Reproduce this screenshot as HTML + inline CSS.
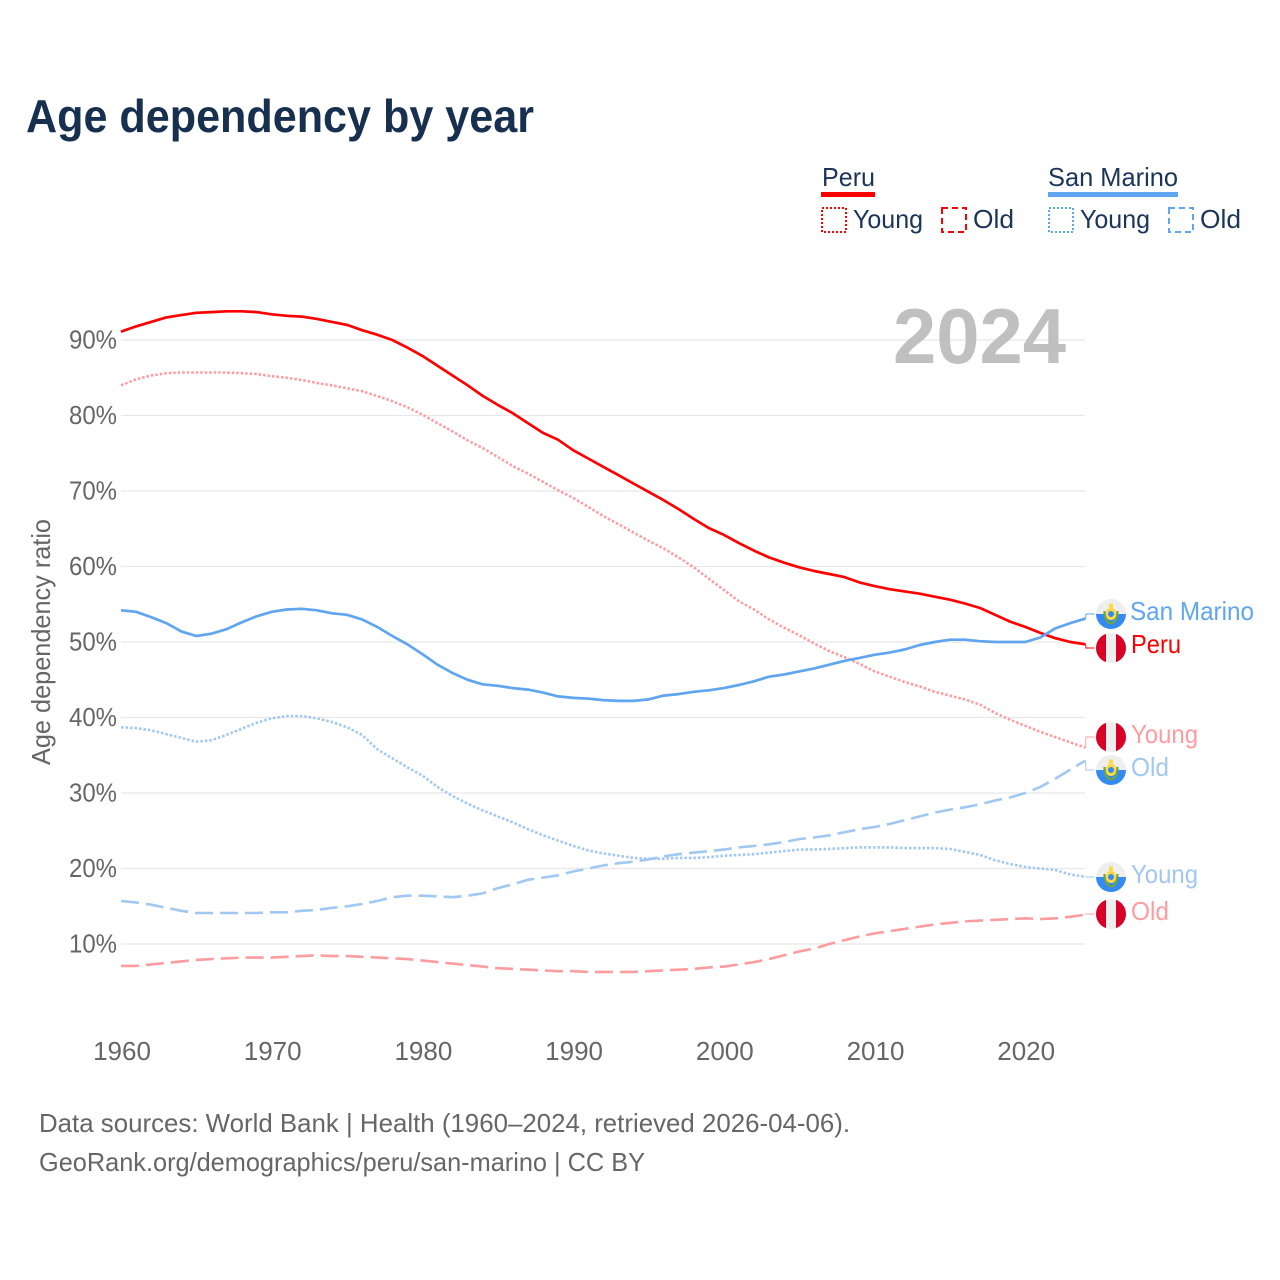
<!DOCTYPE html>
<html lang="en">
<head>
<meta charset="utf-8">
<title>Age dependency by year</title>
<style>
html,body{margin:0;padding:0;background:#fff;width:1280px;height:1280px;overflow:hidden}
svg{display:block}
text{font-family:"Liberation Sans",sans-serif}
</style>
</head>
<body>
<svg id="chart" xmlns="http://www.w3.org/2000/svg" width="1280" height="1280" viewBox="0 0 1280 1280">
  <defs>
    <g id="flag-pe">
      <clipPath id="clip-pe"><circle cx="0" cy="0" r="15"/></clipPath>
      <g clip-path="url(#clip-pe)">
        <rect x="-15" y="-15" width="30" height="30" fill="#eeeeee"/>
        <rect x="-15" y="-15" width="10" height="30" fill="#d80027"/>
        <rect x="5" y="-15" width="10" height="30" fill="#d80027"/>
      </g>
    </g>
    <g id="flag-sm">
      <clipPath id="clip-sm"><circle cx="0" cy="0" r="15"/></clipPath>
      <g clip-path="url(#clip-sm)">
        <rect x="-15" y="-15" width="30" height="15" fill="#eeeeee"/>
        <rect x="-15" y="0" width="30" height="15" fill="#338af3"/>
        <path d="M-6.5,-3 Q-6.5,8 0,9.5 Q6.5,8 6.5,-3" fill="none" stroke="#6da544" stroke-width="2.2"/>
        <rect x="-5" y="-6" width="10" height="12" rx="4.5" fill="#ffda44"/>
        <rect x="-3" y="-3" width="6" height="6" rx="3" fill="#338af3"/>
        <rect x="-2" y="-10.5" width="4" height="5" rx="1" fill="#ffda44"/>
      </g>
    </g>
  </defs>

  <text x="26" y="132" font-size="46" font-weight="700" fill="#17304f" textLength="508" lengthAdjust="spacingAndGlyphs">Age dependency by year</text>

  <g>
    <text x="822" y="186" font-size="26" fill="#1a3558" textLength="53" lengthAdjust="spacingAndGlyphs">Peru</text>
    <rect x="821" y="192" width="54" height="5" fill="#ff0000"/>
    <rect x="822" y="208" width="24" height="24" fill="none" stroke="#ff0000" stroke-width="2" stroke-dasharray="2,2"/>
    <text x="853" y="228" font-size="26" fill="#1a3558" textLength="70" lengthAdjust="spacingAndGlyphs">Young</text>
    <rect x="942" y="208" width="24" height="24" fill="none" stroke="#ff0000" stroke-width="2" stroke-dasharray="6,4"/>
    <text x="973" y="228" font-size="26" fill="#1a3558" textLength="41" lengthAdjust="spacingAndGlyphs">Old</text>

    <text x="1048" y="186" font-size="26" fill="#1a3558" textLength="130" lengthAdjust="spacingAndGlyphs">San Marino</text>
    <rect x="1048" y="192" width="130" height="5" fill="#60a5ef"/>
    <rect x="1049" y="208" width="24" height="24" fill="none" stroke="#60a5ef" stroke-width="2" stroke-dasharray="2,2"/>
    <text x="1080" y="228" font-size="26" fill="#1a3558" textLength="70" lengthAdjust="spacingAndGlyphs">Young</text>
    <rect x="1169" y="208" width="24" height="24" fill="none" stroke="#60a5ef" stroke-width="2" stroke-dasharray="6,4"/>
    <text x="1200" y="228" font-size="26" fill="#1a3558" textLength="41" lengthAdjust="spacingAndGlyphs">Old</text>
  </g>

  <g id="grid"></g>
  <g id="yticks"></g>
  <g id="xticks"></g>

  <text x="893" y="363" font-size="78" font-weight="700" fill="#c0c0c0" textLength="173" lengthAdjust="spacingAndGlyphs">2024</text>

  <text transform="translate(50,765) rotate(-90)" font-size="26" fill="#666666" textLength="246" lengthAdjust="spacingAndGlyphs">Age dependency ratio</text>

  <g id="series"></g>
  <g id="connectors"></g>

  <g>
    <use href="#flag-sm" x="1111" y="614"/>
    <text x="1130" y="620" font-size="26" fill="#60a5ef" textLength="124" lengthAdjust="spacingAndGlyphs">San Marino</text>
    <use href="#flag-pe" x="1111" y="648"/>
    <text x="1131" y="653" font-size="26" fill="#ff0000" textLength="50" lengthAdjust="spacingAndGlyphs">Peru</text>
    <use href="#flag-pe" x="1111" y="737"/>
    <text x="1131" y="743" font-size="26" fill="#ff9c9f" textLength="67" lengthAdjust="spacingAndGlyphs">Young</text>
    <use href="#flag-sm" x="1111" y="770"/>
    <text x="1131" y="776" font-size="26" fill="#a0c8f2" textLength="38" lengthAdjust="spacingAndGlyphs">Old</text>
    <use href="#flag-sm" x="1111" y="877"/>
    <text x="1131" y="883" font-size="26" fill="#a0c8f2" textLength="67" lengthAdjust="spacingAndGlyphs">Young</text>
    <use href="#flag-pe" x="1111" y="914"/>
    <text x="1131" y="920" font-size="26" fill="#ff9c9f" textLength="38" lengthAdjust="spacingAndGlyphs">Old</text>
  </g>

  <text x="39" y="1132" font-size="26" fill="#666666" textLength="811" lengthAdjust="spacingAndGlyphs">Data sources: World Bank | Health (1960–2024, retrieved 2026-04-06).</text>
  <text x="39" y="1171" font-size="26" fill="#666666" textLength="606" lengthAdjust="spacingAndGlyphs">GeoRank.org/demographics/peru/san-marino | CC BY</text>
</svg>

<script>
const startYear = 1960;
const yTicks = [10, 20, 30, 40, 50, 60, 70, 80, 90];
const xTicks = [1960, 1970, 1980, 1990, 2000, 2010, 2020];

const peruTotal = [
  91.1,91.8,92.4,93,93.3,93.6,93.7,93.8,93.8,93.7,
  93.4,93.2,93.1,92.8,92.4,92,91.3,90.7,90,89,
  87.9,86.6,85.3,84,82.6,81.4,80.3,79,77.7,76.8,
  75.4,74.3,73.2,72.1,71,69.9,68.8,67.6,66.3,65.1,
  64.2,63.1,62.1,61.2,60.5,59.9,59.4,59,58.6,57.9,
  57.4,57,56.7,56.4,56,55.6,55.1,54.5,53.6,52.7,
  52,51.2,50.5,50,49.7
];
const peruYoung = [
  84,84.8,85.3,85.6,85.7,85.7,85.7,85.7,85.6,85.5,
  85.2,85,84.7,84.3,84,83.6,83.2,82.6,81.9,81.1,
  80.1,79,77.9,76.7,75.7,74.5,73.3,72.3,71.2,70.1,
  69.1,67.9,66.7,65.6,64.5,63.4,62.4,61.2,59.9,58.4,
  56.9,55.4,54.3,53,51.9,50.9,49.8,48.8,48,47.1,
  46.1,45.4,44.7,44.1,43.4,42.9,42.4,41.7,40.6,39.7,
  38.9,38.1,37.4,36.7,36
];
const peruOld = [
  7.1,7.1,7.3,7.5,7.7,7.9,8,8.1,8.2,8.2,
  8.2,8.3,8.4,8.5,8.4,8.4,8.3,8.2,8.1,8,
  7.8,7.6,7.4,7.2,7,6.8,6.7,6.6,6.5,6.4,
  6.4,6.3,6.3,6.3,6.3,6.4,6.5,6.6,6.7,6.9,
  7,7.3,7.6,8,8.5,9,9.4,10,10.5,11,
  11.4,11.7,12,12.3,12.6,12.8,13,13.1,13.2,13.3,
  13.4,13.3,13.4,13.6,13.9
];
const sanMarinoTotal = [
  54.2,54,53.3,52.5,51.4,50.8,51.1,51.7,52.6,53.4,
  54,54.3,54.4,54.2,53.8,53.6,53,52,50.8,49.7,
  48.4,47,45.9,45,44.4,44.2,43.9,43.7,43.3,42.8,
  42.6,42.5,42.3,42.2,42.2,42.4,42.9,43.1,43.4,43.6,
  43.9,44.3,44.8,45.4,45.7,46.1,46.5,47,47.5,47.9,
  48.3,48.6,49,49.6,50,50.3,50.3,50.1,50,50,
  50,50.6,51.8,52.5,53.1
];
const sanMarinoYoung = [
  38.7,38.6,38.3,37.8,37.3,36.8,37,37.7,38.5,39.3,
  39.9,40.2,40.2,39.9,39.4,38.7,37.7,35.8,34.6,33.4,
  32.3,30.8,29.6,28.6,27.7,26.9,26.1,25.2,24.4,23.7,
  23,22.4,22,21.7,21.4,21.3,21.3,21.4,21.4,21.5,
  21.7,21.8,21.9,22.1,22.3,22.5,22.5,22.6,22.7,22.8,
  22.8,22.8,22.7,22.7,22.7,22.6,22.2,21.8,21.1,20.6,
  20.2,20,19.8,19.2,18.9
];
const sanMarinoOld = [
  15.7,15.5,15.2,14.8,14.4,14.1,14.1,14.1,14.1,14.1,
  14.2,14.2,14.4,14.5,14.8,15,15.3,15.7,16.2,16.4,
  16.4,16.3,16.2,16.4,16.7,17.4,17.9,18.5,18.8,19.1,
  19.6,20,20.4,20.7,20.9,21.2,21.6,21.9,22.1,22.3,
  22.5,22.8,23,23.2,23.5,23.9,24.1,24.4,24.8,25.2,
  25.5,25.9,26.4,26.9,27.4,27.8,28.1,28.5,29,29.4,
  30,30.8,31.9,33.1,34.3
];

const NS = 'http://www.w3.org/2000/svg';
function xPos(year) { return 121 + (year - 1960) * 15.07; }
function yPos(v) { return 1019.5 - v * 7.55; }
function make(tag, attrs, parent) {
  const el = document.createElementNS(NS, tag);
  for (const k in attrs) el.setAttribute(k, attrs[k]);
  parent.appendChild(el);
  return el;
}

const gridG = document.getElementById('grid');
const yG = document.getElementById('yticks');
const xG = document.getElementById('xticks');
const seriesG = document.getElementById('series');
const connG = document.getElementById('connectors');

yTicks.forEach(function (t) {
  const line = make('line', {x1: 121, x2: 1085, y1: yPos(t), y2: yPos(t), stroke: '#e8e8e8', 'stroke-width': 1.3}, gridG);
  
  
  const label = make('text', {x: 117, y: yPos(t) + 8.5, 'text-anchor': 'end', 'font-size': 26, fill: '#666666', textLength: 48, lengthAdjust: 'spacingAndGlyphs'}, yG);
  
  
  label.textContent = t + '%';
});

xTicks.forEach(function (t) {
  const label = make('text', {x: xPos(t) + 1, y: 1060, 'text-anchor': 'middle', 'font-size': 26, fill: '#666666'}, xG);
  
  
  label.textContent = t;
});

function drawLine(values, color, width, dash, labelY) {
  const pts = values.map(function (v, i) { return xPos(startYear + i).toFixed(1) + ',' + yPos(v).toFixed(1); });
  const attrs = {points: pts.join(' '), fill: 'none', stroke: color, 'stroke-width': width, 'stroke-linejoin': 'round'};
  if (dash) attrs['stroke-dasharray'] = dash;
  const line = make('polyline', attrs, seriesG);
  const last = values[values.length - 1];
  const ex = xPos(startYear + values.length - 1);
  const conn = make('polyline', {
    points: ex + ',' + yPos(last).toFixed(1) + ' ' + (ex + 0.5) + ',' + labelY + ' ' + (ex + 9) + ',' + labelY,
    fill: 'none', stroke: color, 'stroke-width': 1.2, opacity: 0.8
  }, connG);
  
  
  return line;
}

const lineSmOld = drawLine(sanMarinoOld, '#a0c8f2', 2.6, '18,7', 770);


const linePeOld = drawLine(peruOld, '#ff9c9f', 2.6, '18,7', 914);


const lineSmYoung = drawLine(sanMarinoYoung, '#a0c8f2', 2.6, '2.5,2', 877);


const linePeYoung = drawLine(peruYoung, '#ff9c9f', 2.6, '2.5,2', 737);


const linePeTotal = drawLine(peruTotal, '#ff0000', 2.7, '', 648);


const lineSmTotal = drawLine(sanMarinoTotal, '#60a5ef', 2.7, '', 614);


</script>
</body>
</html>
